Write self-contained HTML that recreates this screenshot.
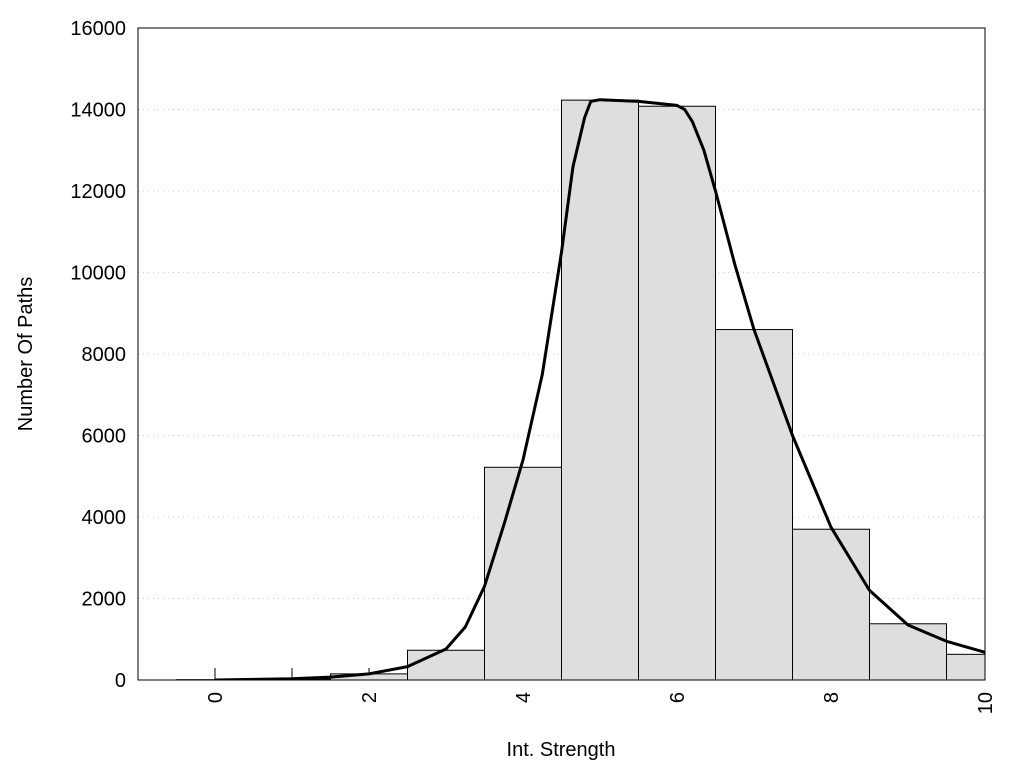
<!DOCTYPE html>
<html><head><meta charset="utf-8"><style>
body{margin:0;background:#fff;}
svg{display:block;font-family:"Liberation Sans",sans-serif;}
</style></head><body>
<svg id="chart" width="1024" height="768" viewBox="0 0 1024 768" xmlns="http://www.w3.org/2000/svg"></svg>
<script>
const binCenters=[0,1,2,3,4,5,6,7,8,9,10];
const binCounts=[8,25,150,730,5220,14230,14080,8600,3700,1380,630];
const curveX=[0,1,1.5,2,2.5,3,3.25,3.5,3.75,4,4.25,4.5,4.65,4.8,4.88,5,5.5,6,6.1,6.2,6.35,6.5,6.75,7,7.5,8,8.5,9,9.5,10];
const curveY=[0,30,70,150,330,760,1300,2300,3800,5400,7500,10500,12600,13800,14200,14240,14200,14100,14000,13700,13000,12000,10200,8600,6000,3750,2200,1350,950,680];
const yTicks=[0,2000,4000,6000,8000,10000,12000,14000,16000];
const xTicks=[0,2,4,6,8,10];
const xMinorTicks=[0,1,2,3,4,5,6,7,8,9,10];

const NS="http://www.w3.org/2000/svg";
const svg=document.getElementById('chart');
const L=138,R=985,T=28,B=680,xMin=-1,xMax=10,yMax=16000;
const sx=v=>L+(v-xMin)/(xMax-xMin)*(R-L);
const sy=v=>B-v/yMax*(B-T);
function mk(tag,attrs,parent){const e=document.createElementNS(NS,tag);for(const k in attrs)e.setAttribute(k,attrs[k]);(parent||svg).appendChild(e);return e;}

const defs=mk('clipPath',{id:'clip'});mk('rect',{x:L,y:T,width:R-L,height:B-T},defs);

yTicks.forEach(v=>{
  if(v>0&&v<yMax){const g=mk('line',{x1:L,x2:R,y1:sy(v),y2:sy(v),stroke:'#ccc','stroke-dasharray':'1,4','stroke-width':1});
  
  }
  const t=mk('text',{x:L-12,y:sy(v)+7,'text-anchor':'end','font-size':20,fill:'#000'});
  t.textContent=v;
  
  
});

xMinorTicks.forEach(v=>{
  const l=mk('line',{x1:sx(v),x2:sx(v),y1:B,y2:B-12,stroke:'#000','stroke-width':1});
  
  
});

const bars=mk('g',{'clip-path':'url(#clip)'});


binCenters.forEach((c,i)=>{
  const r=mk('rect',{x:sx(c-0.5),y:sy(binCounts[i]),width:sx(c+0.5)-sx(c-0.5),height:B-sy(binCounts[i]),fill:'#dedede',stroke:'#000','stroke-width':1},bars);
  
  
});

const pts=curveX.map((x,i)=>sx(x).toFixed(1)+','+sy(curveY[i]).toFixed(1)).join(' ');
const pl=mk('polyline',{points:pts,fill:'none',stroke:'#000','stroke-width':3,'stroke-linejoin':'round','clip-path':'url(#clip)'});



const frame=mk('rect',{x:L,y:T,width:R-L,height:B-T,fill:'none',stroke:'#000','stroke-width':1});



xTicks.forEach(v=>{
  const t=mk('text',{x:0,y:0,'text-anchor':'end','font-size':20,fill:'#000',transform:`translate(${sx(v)+7},${B+12}) rotate(-90)`});
  t.textContent=v;
  
  
});

const xt=mk('text',{x:561,y:756,'text-anchor':'middle','font-size':20});
xt.textContent='Int. Strength';


const yt=mk('text',{x:0,y:0,'text-anchor':'middle','font-size':20,transform:'translate(32,354) rotate(-90)'});
yt.textContent='Number Of Paths';


</script>
</body></html>
